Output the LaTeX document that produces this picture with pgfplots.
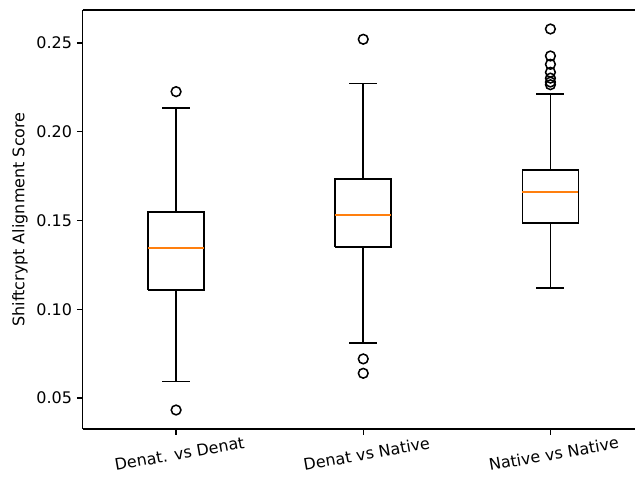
\documentclass[border=0pt]{standalone}
\usepackage{fontspec}
\setmainfont{DejaVu Sans}
\usepackage{pgfplots}
\pgfplotsset{compat=1.18}
\definecolor{mplorange}{HTML}{FF7F0E}
\begin{document}
\begin{tikzpicture}
\path (0,0) rectangle (457.2pt,342.72pt);
\begin{axis}[overlay,
  at={(59.4pt,33.84pt)}, anchor=south west,
  scale only axis, width=404.28pt, height=301.68pt,
  xmin=0.5, xmax=3.5, ymin=0.0325, ymax=0.2686,
  axis x line*=box, axis y line*=left,
  xtick={1,2,3},
  xticklabels={Denat. vs Denat, Denat vs Native, Native vs Native},
  ytick={0.05,0.10,0.15,0.20,0.25},
  scaled y ticks=false,
  yticklabel style={/pgf/number format/.cd, fixed, fixed zerofill, precision=2},
  /pgf/number format/assume math mode=true,
  tick align=outside, tick pos=left,
  major tick length=4pt,
  every tick/.style={black, line width=1pt},
  axis line style={black, line width=1pt},
  tick label style={font=\fontsize{11.5}{13}\selectfont, black},
  xticklabel style={rotate=10, anchor=center, yshift=-14pt},
  ylabel={Shiftcrypt Alignment Score},
  every axis y label/.style={at={(axis description cs:-0.1113,0.5)}, rotate=90, anchor=center, font=\fontsize{11.5}{13}\selectfont},
]
% boxes
\addplot[black, line width=1.2pt] coordinates {(0.85,0.1108) (1.15,0.1108) (1.15,0.1548) (0.85,0.1548) (0.85,0.1108)};
\addplot[black, line width=1.2pt] coordinates {(1.85,0.1349) (2.15,0.1349) (2.15,0.1732) (1.85,0.1732) (1.85,0.1349)};
\addplot[black, line width=1.2pt] coordinates {(2.85,0.1484) (3.15,0.1484) (3.15,0.1786) (2.85,0.1786) (2.85,0.1484)};
% whiskers
\addplot[black, line width=1.2pt] coordinates {(1,0.1108) (1,0.0592)};
\addplot[black, line width=1.2pt] coordinates {(1,0.1548) (1,0.2132)};
\addplot[black, line width=1.2pt] coordinates {(2,0.1349) (2,0.0808)};
\addplot[black, line width=1.2pt] coordinates {(2,0.1732) (2,0.2271)};
\addplot[black, line width=1.2pt] coordinates {(3,0.1484) (3,0.1118)};
\addplot[black, line width=1.2pt] coordinates {(3,0.1786) (3,0.2213)};
% caps
\addplot[black, line width=1.2pt] coordinates {(0.925,0.0592) (1.075,0.0592)};
\addplot[black, line width=1.2pt] coordinates {(0.925,0.2132) (1.075,0.2132)};
\addplot[black, line width=1.2pt] coordinates {(1.925,0.0808) (2.075,0.0808)};
\addplot[black, line width=1.2pt] coordinates {(1.925,0.2271) (2.075,0.2271)};
\addplot[black, line width=1.2pt] coordinates {(2.925,0.1118) (3.075,0.1118)};
\addplot[black, line width=1.2pt] coordinates {(2.925,0.2213) (3.075,0.2213)};
% medians
\addplot[mplorange, line width=1.3pt] coordinates {(0.85,0.1347) (1.15,0.1347)};
\addplot[mplorange, line width=1.3pt] coordinates {(1.85,0.1533) (2.15,0.1533)};
\addplot[mplorange, line width=1.3pt] coordinates {(2.85,0.1662) (3.15,0.1662)};
% outliers
\addplot[only marks, mark=o, mark size=3.5pt, mark options={black, line width=1.1pt}] coordinates {
(1,0.2226) (1,0.0432)
(2,0.2521) (2,0.0720) (2,0.0639)
(3,0.2579) (3,0.2427) (3,0.2380) (3,0.2335) (3,0.2302) (3,0.2280) (3,0.2265)};
\end{axis}
\end{tikzpicture}
\end{document}
